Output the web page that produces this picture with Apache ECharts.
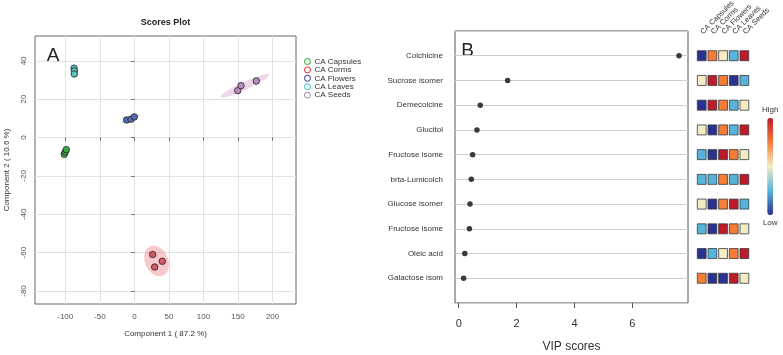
<!DOCTYPE html>
<html><head><meta charset="utf-8">
<script src="https://cdn.jsdelivr.net/npm/echarts@6/dist/echarts.min.js"></script>
<style>html,body{margin:0;padding:0;background:#fff}#c{width:783px;height:355px}</style>
</head><body><div id="c"></div><script>
// ---- Panel A: PCA scores ----
const groups = ['CA Capsules','CA Corms','CA Flowers','CA Leaves','CA Seeds'];
const capsules = [[-101.5,-8.7],[-100,-7.5],[-98.5,-6.3]];
const corms    = [[26.5,-61.0],[40.4,-64.5],[29.4,-67.5]];
const flowers  = [[-11.1,9.2],[-4.9,9.6],[-0.1,10.8]];
const leaves   = [[-87.3,36.2],[-86.8,34.8],[-87.0,33.2]];
const seeds    = [[149.5,24.5],[154.3,27.1],[176.4,29.5]];
const pcaXTicks = [-100,-50,0,50,100,150,200];
const pcaYTicks = [-80,-60,-40,-20,0,20,40];
// ---- Panel B: VIP scores ----
const compounds = ['Colchicine','Sucrose isomer','Demecolcine','Glucitol','Fructose isome','brta-Lumicolch','Glucose isomer','Fructose isome','Oleic acid','Galactose isom'];
const vipScores = [7.61,1.69,0.745,0.63,0.48,0.435,0.39,0.37,0.21,0.17];
const vipTicks = [0,2,4,6];
// relative level per group (1 = low ... 5 = high), columns follow `groups`
const heatLevels = [
  [1,4,3,2,5],
  [3,5,4,1,2],
  [1,5,4,2,3],
  [3,1,4,2,5],
  [2,1,5,4,3],
  [2,2,4,2,5],
  [3,1,4,5,2],
  [2,1,5,4,3],
  [1,2,3,4,5],
  [4,1,1,5,3]
];

const FONT = "'Liberation Sans', Arial, sans-serif";
const groupData = [capsules, corms, flowers, leaves, seeds];
const legendColors = ['#22a022','#e0262e','#1f2f8a','#2cc0c8','#a47ea4'];
const fillColors   = ['#3aa64a','#d45a68','#5a6bb0','#5cc4c0','#b58cbc'];
const ellColors    = ['rgba(58,166,74,0.3)','rgba(235,110,120,0.38)','rgba(90,107,176,0.3)','rgba(92,196,192,0.3)','rgba(200,120,190,0.3)'];
const heatColors = ['#2b3190','#56b4da','#f3ecc4','#f57d38','#bd1a2c'];

function ellipse(pts, n) {
  const m = pts.length;
  let mx = 0, my = 0;
  pts.forEach(p => { mx += p[0]; my += p[1]; });
  mx /= m; my /= m;
  let sxx = 0, syy = 0, sxy = 0;
  pts.forEach(p => { const dx = p[0]-mx, dy = p[1]-my; sxx += dx*dx; syy += dy*dy; sxy += dx*dy; });
  sxx /= (m-1); syy /= (m-1); sxy /= (m-1);
  const t = Math.sqrt(5.991);
  const tr = (sxx+syy)/2, d = Math.sqrt(((sxx-syy)/2)**2 + sxy*sxy);
  const l1 = tr + d, l2 = Math.max(tr - d, 0);
  const th = 0.5*Math.atan2(2*sxy, sxx - syy);
  const a = t*Math.sqrt(l1), b = t*Math.sqrt(l2);
  const out = [];
  for (let k = 0; k < n; k++) {
    const u = 2*Math.PI*k/n;
    out.push([mx + a*Math.cos(u)*Math.cos(th) - b*Math.sin(u)*Math.sin(th),
              my + a*Math.cos(u)*Math.sin(th) + b*Math.sin(u)*Math.cos(th)]);
  }
  return {center:[mx,my], pts: out};
}
const ellipses = groupData.map(g => ellipse(g, 90));

const nRows = compounds.length;
const rowY = i => nRows - i;

const series = [];
series.push({
  type: 'custom', name: 'ellipses', xAxisIndex: 0, yAxisIndex: 0, clip: true, z: 1,
  data: ellipses.map(e => e.center),
  renderItem: (params, api) => {
    const e = ellipses[params.dataIndex];
    return {type: 'polygon', shape: {points: e.pts.map(p => api.coord(p))},
            style: {fill: ellColors[params.dataIndex], stroke: 'none'}};
  },
  silent: true,
  markLine: {
    silent: true, symbol: 'none', z: 0, animation: false,
    label: {show: false},
    lineStyle: {color: '#e2e2e2', width: 1, type: 'solid'},
    emphasis: {disabled: true},
    data: pcaXTicks.map(v => ({xAxis: v})).concat(pcaYTicks.map(v => ({yAxis: v})))
  }
});
groups.forEach((g, gi) => {
  series.push({
    type: 'scatter', name: g, xAxisIndex: 0, yAxisIndex: 0, z: 3,
    symbolSize: 6.5,
    itemStyle: {color: fillColors[gi], borderColor: '#222', borderWidth: 0.8, opacity: 1},
    data: groupData[gi]
  });
});
series.push({
  type: 'scatter', name: 'vip', xAxisIndex: 1, yAxisIndex: 1, symbolSize: 5.5,
  itemStyle: {color: '#3a3a3a', opacity: 1},
  data: vipScores.map((v, i) => [v, rowY(i)])
});
const heatData = [];
heatLevels.forEach((row, i) => row.forEach((lv, j) => heatData.push([j, rowY(i), lv])));
series.push({
  type: 'scatter', name: 'heat', xAxisIndex: 2, yAxisIndex: 2, symbol: 'rect', symbolSize: [8.8, 10],
  itemStyle: {borderColor: '#3a3a3a', borderWidth: 0.8, opacity: 1},
  data: heatData
});

const option = {
  animation: false,
  textStyle: {fontFamily: FONT},
  graphic: [
    {type: 'text', x: 165.5, y: 23, style: {text: 'Scores Plot', font: 'bold 9px ' + FONT, fill: '#222', textAlign: 'center', textVerticalAlign: 'middle'}},
    {type: 'text', x: 53, y: 56, style: {text: 'A', font: '19px ' + FONT, fill: '#222', textAlign: 'center', textVerticalAlign: 'middle'}},
    {type: 'text', x: 467.5, y: 51, style: {text: 'B', font: '19px ' + FONT, fill: '#222', textAlign: 'center', textVerticalAlign: 'middle'}}
  ],
  legend: {
    orient: 'vertical', left: 304, top: 57.5, padding: 0, itemGap: 0.4,
    itemWidth: 6, itemHeight: 6, selectedMode: false,
    textStyle: {fontSize: 8, color: '#333', fontFamily: FONT, padding: [0,0,0,-1]},
    data: groups.map((g, gi) => ({name: g, icon: 'circle',
      itemStyle: {color: '#fff', borderColor: legendColors[gi], borderWidth: 1}}))
  },
  grid: [
    {left: 35, top: 36, width: 261, height: 268, show: true, borderColor: '#666', borderWidth: 1, backgroundColor: 'transparent', containLabel: false, outerBoundsMode: 'none'},
    {left: 455, top: 31, width: 233, height: 272, show: true, borderColor: '#555', borderWidth: 1, containLabel: false, outerBoundsMode: 'none'},
    {left: 696.4, top: 31, width: 53.3, height: 272, containLabel: false, outerBoundsMode: 'none'}
  ],
  xAxis: [
    {type: 'value', gridIndex: 0, min: -143.8, max: 233.9,
     name: 'Component 1 ( 87.2 %)', nameLocation: 'middle', nameGap: 26,
     nameTextStyle: {fontSize: 8, color: '#333'},
     axisLine: {show: false},
     axisTick: {show: true, customValues: pcaXTicks, length: 3, lineStyle: {color: '#666'}},
     axisLabel: {customValues: pcaXTicks, fontSize: 8, color: '#555', margin: 9},
     splitLine: {show: false}},
    {type: 'value', gridIndex: 1, min: -0.128, max: 7.92,
     name: 'VIP scores', nameLocation: 'middle', nameGap: 38,
     nameTextStyle: {fontSize: 12, color: '#333'},
     axisLine: {show: false},
     axisTick: {show: true, customValues: vipTicks, length: 5, lineStyle: {color: '#555'}},
     axisLabel: {customValues: vipTicks, fontSize: 11, color: '#333', margin: 15},
     splitLine: {show: false}},
    {type: 'category', gridIndex: 2, data: groups, position: 'top', boundaryGap: true,
     axisLine: {show: false}, axisTick: {show: false},
     axisLabel: {rotate: 45, fontSize: 7.5, color: '#333', margin: -2, interval: 0}}
  ],
  yAxis: [
    {type: 'value', gridIndex: 0, min: -86.8, max: 53.0,
     name: 'Component 2 ( 10.6 %)', nameLocation: 'middle', nameGap: 24,
     nameTextStyle: {fontSize: 8, color: '#333'},
     axisLine: {show: false},
     axisTick: {show: true, customValues: pcaYTicks, length: 3, lineStyle: {color: '#666'}},
     axisLabel: {customValues: pcaYTicks, fontSize: 8, color: '#555', rotate: 90, margin: 7},
     splitLine: {show: false}},
    {type: 'value', gridIndex: 1, min: 0, max: nRows + 1, interval: 1,
     axisLine: {show: false}, axisTick: {show: false},
     axisLabel: {fontSize: 8, color: '#333', margin: 12,
       formatter: v => (v >= 1 && v <= nRows) ? compounds[nRows - v] : ''},
     splitLine: {show: true, lineStyle: {color: '#cfcfcf', width: 1}}},
    {type: 'value', gridIndex: 2, min: 0, max: nRows + 1, interval: 1, show: false}
  ],
  visualMap: {
    type: 'continuous', seriesIndex: series.length - 1, dimension: 2, min: 1, max: 5,
    calculable: false, orient: 'vertical', left: 747, top: 91,
    itemWidth: 6, itemHeight: 97, text: ['High', 'Low'], textGap: 4,
    textStyle: {fontSize: 8, color: '#333', fontFamily: FONT},
    inRange: {color: heatColors}
  },
  series: series
};
const chart = echarts.init(document.getElementById('c'), null, {renderer: 'canvas'});
chart.setOption(option);
</script></body></html>
